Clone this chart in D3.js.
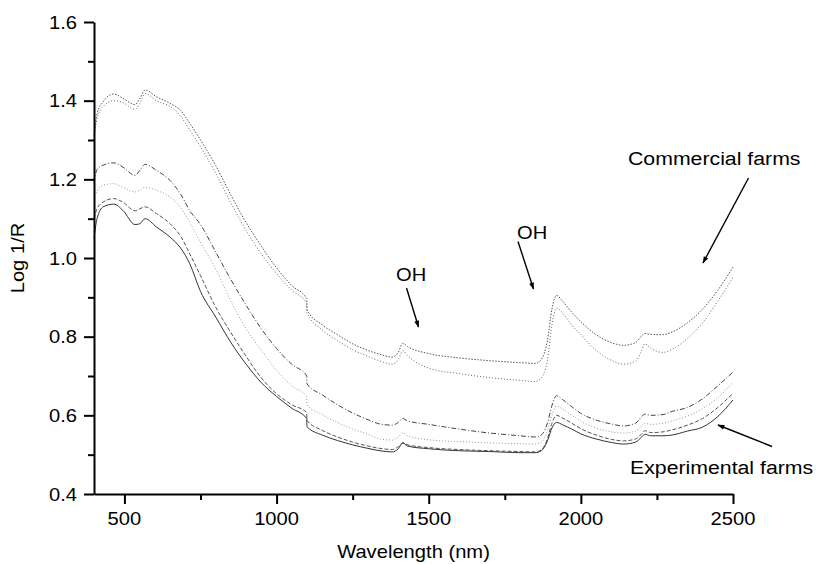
<!DOCTYPE html>
<html>
<head>
<meta charset="utf-8">
<script src="https://cdn.jsdelivr.net/npm/d3@7/dist/d3.min.js"></script>
<style>
  html, body { margin: 0; padding: 0; background: #fff; }
  svg { display: block; font-family: "Liberation Sans", Arial, sans-serif; }
</style>
</head>
<body>
<svg id="chart" width="816" height="564"></svg>
<script>
// wavelength grid (nm) shared by all spectra
const wavelength = [400, 410, 430, 465, 495, 535, 550, 568, 605, 650,
  685, 715, 750, 800, 850, 900, 950, 1000, 1050, 1099,
  1100, 1150, 1200, 1250, 1300, 1340, 1380, 1400, 1415, 1430,
  1500, 1600, 1700, 1800, 1850, 1870, 1890, 1905, 1920, 1940,
  1970, 2000, 2050, 2100, 2140, 2180, 2200, 2210, 2230, 2270,
  2300, 2350, 2400, 2450, 2500];

// commercial farms (upper pair)
const commercial1 = [1.31, 1.367, 1.397, 1.417, 1.406, 1.39, 1.405, 1.427, 1.41, 1.393,
  1.375, 1.342, 1.30, 1.235, 1.16, 1.09, 1.03, 0.975, 0.93, 0.897,
  0.868, 0.83, 0.805, 0.782, 0.765, 0.755, 0.748, 0.76, 0.783, 0.775,
  0.757, 0.746, 0.739, 0.734, 0.732, 0.742, 0.79, 0.87, 0.905, 0.89,
  0.862, 0.838, 0.805, 0.785, 0.778, 0.785, 0.802, 0.808, 0.806, 0.805,
  0.812, 0.835, 0.87, 0.918, 0.977];
const commercial2 = [1.30, 1.355, 1.385, 1.40, 1.395, 1.378, 1.392, 1.418, 1.40, 1.385,
  1.36, 1.325, 1.283, 1.215, 1.14, 1.07, 1.01, 0.96, 0.918, 0.885,
  0.86, 0.817, 0.79, 0.767, 0.75, 0.738, 0.73, 0.742, 0.764, 0.752,
  0.72, 0.706, 0.696, 0.689, 0.686, 0.695, 0.74, 0.83, 0.873, 0.86,
  0.83, 0.805, 0.765, 0.74, 0.73, 0.738, 0.765, 0.782, 0.77, 0.76,
  0.768, 0.795, 0.835, 0.89, 0.951];

// experimental farms (lower group)
const experimental1 = [1.19, 1.225, 1.236, 1.242, 1.231, 1.21, 1.222, 1.238, 1.223, 1.197,
  1.162, 1.12, 1.085, 1.015, 0.945, 0.88, 0.82, 0.77, 0.73, 0.70,
  0.68, 0.652, 0.627, 0.606, 0.589, 0.578, 0.575, 0.582, 0.592, 0.586,
  0.577, 0.565, 0.555, 0.548, 0.545, 0.55, 0.58, 0.625, 0.65, 0.64,
  0.622, 0.605, 0.588, 0.578, 0.573, 0.58, 0.597, 0.603, 0.60, 0.602,
  0.61, 0.62, 0.642, 0.675, 0.71];
const experimental2 = [1.15, 1.17, 1.185, 1.189, 1.18, 1.168, 1.172, 1.18, 1.172, 1.155,
  1.128, 1.09, 1.04, 0.972, 0.89, 0.82, 0.765, 0.715, 0.675, 0.647,
  0.627, 0.602, 0.582, 0.565, 0.552, 0.54, 0.537, 0.545, 0.556, 0.548,
  0.538, 0.533, 0.53, 0.528, 0.527, 0.532, 0.56, 0.60, 0.624, 0.616,
  0.60, 0.585, 0.568, 0.558, 0.555, 0.56, 0.574, 0.58, 0.577, 0.58,
  0.586, 0.598, 0.617, 0.645, 0.684];
const experimental3 = [1.10, 1.125, 1.142, 1.151, 1.142, 1.12, 1.125, 1.13, 1.113, 1.087,
  1.055, 1.01, 0.955, 0.875, 0.81, 0.75, 0.695, 0.655, 0.627, 0.607,
  0.587, 0.562, 0.545, 0.532, 0.522, 0.516, 0.513, 0.52, 0.53, 0.525,
  0.518, 0.513, 0.51, 0.508, 0.507, 0.512, 0.54, 0.58, 0.60, 0.593,
  0.58, 0.566, 0.55, 0.539, 0.535, 0.54, 0.553, 0.561, 0.556, 0.558,
  0.563, 0.575, 0.592, 0.62, 0.656];
const experimental4 = [1.05, 1.10, 1.13, 1.137, 1.121, 1.085, 1.087, 1.10, 1.079, 1.053,
  1.025, 0.985, 0.915, 0.85, 0.785, 0.73, 0.683, 0.648, 0.618, 0.592,
  0.571, 0.55, 0.536, 0.525, 0.516, 0.51, 0.507, 0.515, 0.53, 0.522,
  0.515, 0.51, 0.508, 0.505, 0.505, 0.51, 0.535, 0.568, 0.582, 0.576,
  0.565, 0.553, 0.54, 0.531, 0.527, 0.532, 0.545, 0.552, 0.548, 0.548,
  0.55, 0.56, 0.57, 0.597, 0.639];

const xTicks = [500, 1000, 1500, 2000, 2500];
const xMinorTicks = [750, 1250, 1750, 2250];
const yTicks = [0.4, 0.6, 0.8, 1.0, 1.2, 1.4, 1.6];
const yMinorTicks = [0.5, 0.7, 0.9, 1.1, 1.3, 1.5];

const series = [
  { values: commercial1, color: '#555', dash: '1.5,1.5' },
  { values: commercial2, color: '#666', dash: '1,2' },
  { values: experimental1, color: '#444', dash: '5,2,1,2' },
  { values: experimental2, color: '#999', dash: '1,2' },
  { values: experimental3, color: '#555', dash: '4,2' },
  { values: experimental4, color: '#333', dash: null }
];

const svg = d3.select('#chart');
const margin = { left: 94, right: 83, top: 22, bottom: 70 };
const width = 816, height = 564;

const x = d3.scaleLinear().domain([400, 2500]).range([margin.left, width - margin.right]);
const y = d3.scaleLinear().domain([0.4, 1.6]).range([height - margin.bottom, margin.top]);

// text is a little wider than the installed fonts, so stretch it horizontally
function label(g, px, py, str, size, anchor, sx) {
  g.append('text')
    .attr('transform', `translate(${px},${py}) scale(${sx || 1.12},1)`)
    .attr('text-anchor', anchor || 'start')
    .attr('font-size', size)
    .attr('fill', '#000')
    .text(str);
}

// spectra
const line = d3.line()
  .x((d, i) => x(wavelength[i]))
  .y(d => y(d))
  .curve(d3.curveMonotoneX);

svg.append('g')
  .selectAll('path')
  .data(series)
  .enter()
  .append('path')
  .attr('d', d => line(d.values))
  .attr('fill', 'none')
  .attr('stroke', d => d.color)
  .attr('stroke-width', 1)
  .attr('stroke-dasharray', d => d.dash);

// axes
const axisG = svg.append('g');
axisG.append('g')
  .attr('transform', `translate(0,${y(0.4)})`)
  .call(d3.axisBottom(x).tickValues(xTicks).tickSize(10).tickSizeOuter(0).tickFormat(''));
axisG.append('g')
  .attr('transform', `translate(0,${y(0.4)})`)
  .call(d3.axisBottom(x).tickValues(xMinorTicks).tickSize(6).tickSizeOuter(0).tickFormat(''))
  .select('.domain').remove();
axisG.append('g')
  .attr('transform', `translate(${x(400)},0)`)
  .call(d3.axisLeft(y).tickValues(yTicks).tickSize(10).tickSizeOuter(0).tickFormat(''));
axisG.append('g')
  .attr('transform', `translate(${x(400)},0)`)
  .call(d3.axisLeft(y).tickValues(yMinorTicks).tickSize(6).tickSizeOuter(0).tickFormat(''))
  .select('.domain').remove();

axisG.selectAll('.domain').attr('stroke', '#000').attr('stroke-width', 2);
axisG.selectAll('.tick line').attr('stroke', '#000').attr('stroke-width', 2);

// tick labels
const labels = svg.append('g');
xTicks.forEach(t => label(labels, x(t), y(0.4) + 31, String(t), 18, 'middle'));
yTicks.forEach(t => label(labels, x(400) - 17, y(t) + 6.5, t.toFixed(1), 18, 'end'));

// axis titles (kept just inside the bottom edge)
label(labels, (x(400) + x(2500)) / 2, 558, 'Wavelength (nm)', 18, 'middle');
labels.append('text')
  .attr('transform', `translate(24,${(y(0.4) + y(1.6)) / 2}) rotate(-90) scale(1.12,1)`)
  .attr('text-anchor', 'middle')
  .attr('font-size', 18)
  .text('Log 1/R');

// annotations
label(labels, 396, 281, 'OH', 19, 'start', 1.06);
label(labels, 517, 238.5, 'OH', 19, 'start', 1.06);
label(labels, 628, 164.5, 'Commercial farms', 19, 'start');
label(labels, 630, 474, 'Experimental farms', 19, 'start');

svg.append('defs').append('marker')
  .attr('id', 'arrow')
  .attr('viewBox', '0 0 10 10')
  .attr('refX', 9).attr('refY', 5)
  .attr('markerWidth', 9).attr('markerHeight', 7)
  .attr('markerUnits', 'userSpaceOnUse')
  .attr('orient', 'auto')
  .append('path')
  .attr('d', 'M0,1.5 L10,5 L0,8.5 Z')
  .attr('fill', '#000');

const arrows = [
  [406.5, 288, 418.5, 327],
  [518, 241.5, 533.5, 289],
  [748.5, 178, 703, 263],
  [772, 446.5, 718, 425]
];
svg.append('g')
  .selectAll('line')
  .data(arrows)
  .enter()
  .append('line')
  .attr('x1', d => d[0]).attr('y1', d => d[1])
  .attr('x2', d => d[2]).attr('y2', d => d[3])
  .attr('stroke', '#000')
  .attr('stroke-width', 1.4)
  .attr('marker-end', 'url(#arrow)');
</script>
</body>
</html>
